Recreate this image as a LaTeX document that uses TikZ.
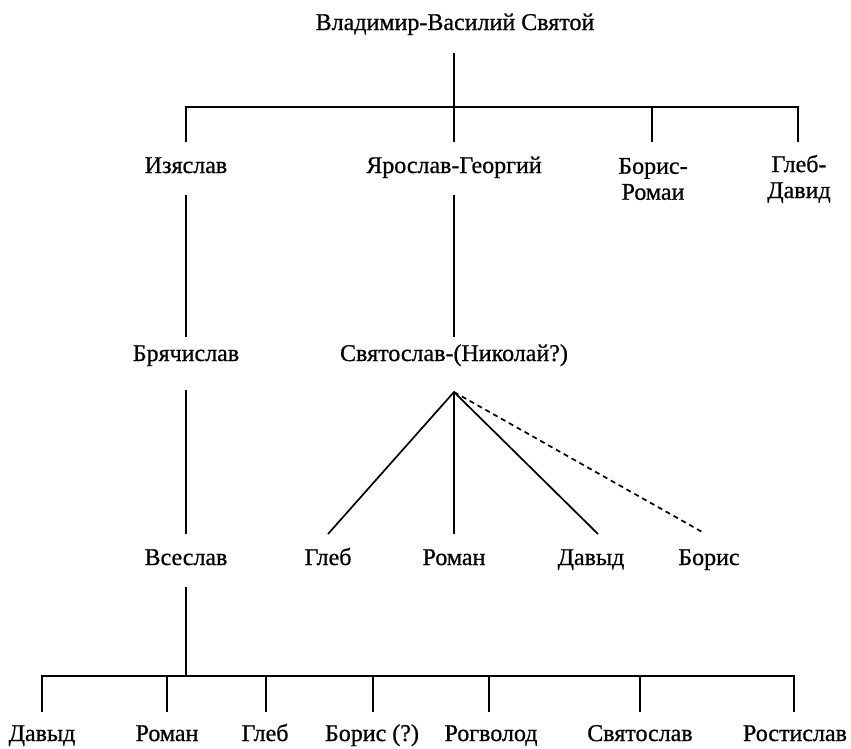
\documentclass[tikz,border=0pt]{standalone}
\usepackage{fontspec}
\newfontfamily\lblfont{Liberation Serif}[FakeBold=0.8]
\begin{document}
\begin{tikzpicture}[x=1pt,y=-1pt,
  lbl/.style={font=\lblfont\fontsize{24}{26}\selectfont, inner sep=0pt, align=center},
  bl/.style={lbl, anchor=base},
  ln/.style={line width=1.7pt},
  dln/.style={line width=1.7pt, dash pattern=on 5pt off 4pt}]
\useasboundingbox (0,0) rectangle (851,748);
% level 0
\node[bl] (vlad) at (455,30) {Владимир-Василий Святой};
% level 1
\node[bl] (izy) at (186,173) {Изяслав};
\node[bl] (yar) at (454,173) {Ярослав-Георгий};
\node[lbl] (bor1) at (653,179) {Борис-\\Ромаи};
\node[lbl] (gleb1) at (799,179) {Глеб-\\Давид};
% level 2
\node[bl] (bry) at (186,361) {Брячислав};
\node[bl] (svy) at (454,361) {Святослав-(Николай?)};
% level 3
\node[bl] (vse) at (186,565) {Всеслав};
\node[bl] (gleb2) at (328,565) {Глеб};
\node[bl] (rom2) at (454,565) {Роман};
\node[bl] (dav2) at (591,565) {Давыд};
\node[bl] (bor2) at (709,565) {Борис};
% level 4
\node[bl] (dav4) at (42,741) {Давыд};
\node[bl] (rom4) at (167,741) {Роман};
\node[bl] (gleb4) at (265,741) {Глеб};
\node[bl] (bor4) at (372,741) {Борис (?)};
\node[bl] (rog4) at (491,741) {Рогволод};
\node[bl] (svy4) at (640,741) {Святослав};
\node[bl] (ros4) at (795,741) {Ростислав};

% coordinates
\coordinate (vstem) at (454,53);
\coordinate (bar1) at (454,107);
\coordinate (bar1l) at (186,107);
\coordinate (bar1r) at (798,107);
\coordinate (izyT) at (186,142);
\coordinate (yarT) at (454,142);
\coordinate (bor1T) at (652,142);
\coordinate (gleb1T) at (798,142);
\coordinate (izyB) at (186,195);
\coordinate (bryT) at (186,337);
\coordinate (yarB) at (454,195);
\coordinate (svyT) at (454,337);
\coordinate (bryB) at (186,390);
\coordinate (vseT) at (186,534);
\coordinate (apex) at (454,392);
\coordinate (gleb2T) at (328,534);
\coordinate (rom2T) at (454,534);
\coordinate (dav2T) at (598,534);
\coordinate (bor2T) at (704,533);
\coordinate (vseB) at (186,587);
\coordinate (bar4) at (186,676);
\coordinate (bar4l) at (42,676);
\coordinate (bar4r) at (794,676);
\coordinate (dav4T) at (42,712);
\coordinate (rom4T) at (167,712);
\coordinate (gleb4T) at (266,712);
\coordinate (bor4T) at (373,712);
\coordinate (rog4T) at (489,712);
\coordinate (svy4T) at (640,712);
\coordinate (ros4T) at (794,712);

% top
\draw[ln] (vstem) -- (bar1);
\draw[ln] (izyT) -- (bar1l) -- (bar1r) -- (gleb1T);
\draw[ln] (bar1) -- (yarT);
\draw[ln] (bor1T |- bar1) -- (bor1T);
% middle
\draw[ln] (izyB) -- (bryT);
\draw[ln] (yarB) -- (svyT);
\draw[ln] (bryB) -- (vseT);
\draw[ln] (gleb2T) -- (apex) -- (dav2T);
\draw[ln] (apex) -- (rom2T);
\draw[dln] (apex) -- (bor2T);
% bottom
\draw[ln] (vseB) -- (bar4);
\draw[ln] (dav4T) -- (bar4l) -- (bar4r) -- (ros4T);
\foreach \c in {rom4T,gleb4T,bor4T,rog4T,svy4T}
  \draw[ln] (\c |- bar4) -- (\c);
\end{tikzpicture}
\end{document}
